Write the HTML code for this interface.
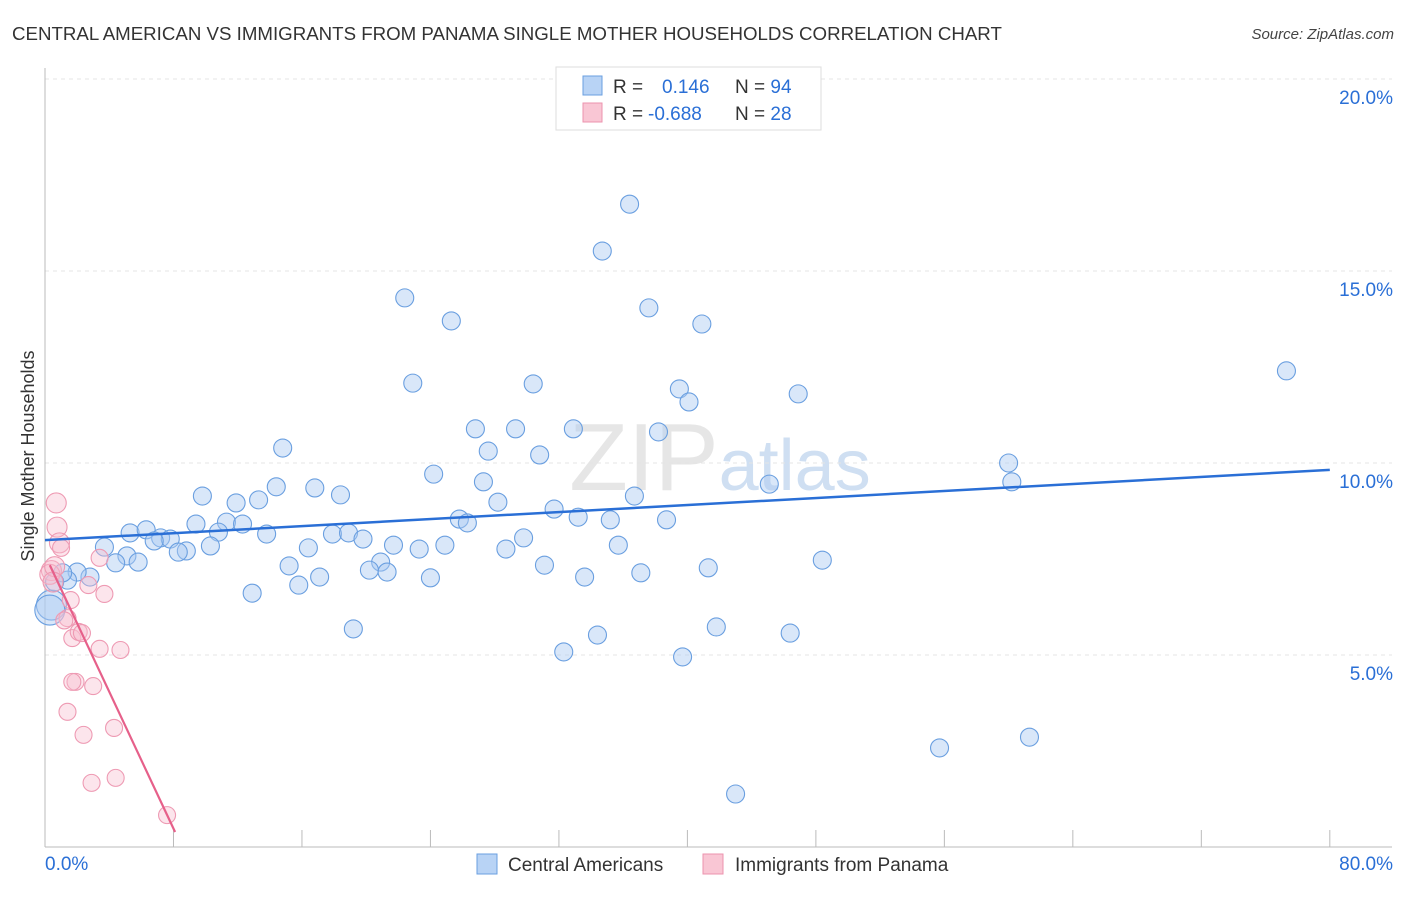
<!DOCTYPE html>
<html><head><meta charset="utf-8"><style>
body{margin:0;background:#fff;font-family:"Liberation Sans",sans-serif}
svg text{font-family:"Liberation Sans",sans-serif}
</style></head><body>
<svg id="chart" width="1406" height="892" xmlns="http://www.w3.org/2000/svg">
<text x="12" y="40" font-size="18.7" fill="#333">CENTRAL AMERICAN VS IMMIGRANTS FROM PANAMA SINGLE MOTHER HOUSEHOLDS CORRELATION CHART</text>
<text x="1394" y="39" font-size="15" fill="#444" text-anchor="end" font-style="italic">Source: ZipAtlas.com</text>
<text x="720" y="490" font-size="96" fill="#e6e6e6" text-anchor="middle" font-family="Liberation Serif">ZIP<tspan fill="#cfdff2" font-family="Liberation Sans" font-size="72">atlas</tspan></text>
<text transform="translate(34,456) rotate(-90)" font-size="18" fill="#333" text-anchor="middle">Single Mother Households</text>
<g id="grid"></g><g id="axes"></g><g id="pts"></g><g id="lines"></g>
<g>
<rect x="556" y="67" width="265" height="63" fill="#fff" stroke="#ddd"/>
<rect x="583" y="76" width="19" height="19" fill="#b8d3f5" stroke="#6a9fe0"/>
<rect x="583" y="103" width="19" height="19" fill="#f9c6d4" stroke="#ec93ae"/>
<text x="613" y="93" font-size="19" fill="#333">R =  <tspan fill="#2a6fd6" x="662">0.146</tspan><tspan x="735" fill="#333">N = </tspan><tspan fill="#2a6fd6">94</tspan></text>
<text x="613" y="120" font-size="19" fill="#333">R = <tspan fill="#2a6fd6" x="648">-0.688</tspan><tspan x="735" fill="#333">N = </tspan><tspan fill="#2a6fd6">28</tspan></text>
</g>
<g>
<rect x="477" y="854" width="20" height="20" fill="#b8d3f5" stroke="#6a9fe0"/>
<text x="508" y="871" font-size="19" fill="#333">Central Americans</text>
<rect x="703" y="854" width="20" height="20" fill="#f9c6d4" stroke="#ec93ae"/>
<text x="735" y="871" font-size="19" fill="#333">Immigrants from Panama</text>
</g>
</svg>
<script>
const blueX=[36.4,34.7,22.4,37.6,25.3,40.9,77.3,22.9,30.4,39.5,40.1,46.9,26.8,29.3,32.9,38.2,14.8,27.6,30.8,60.0,24.2,60.2,45.1,27.3,14.4,16.8,9.8,18.4,36.7,11.9,13.3,28.2,31.7,33.2,25.8,26.3,35.2,38.7,9.4,11.3,12.3,5.3,6.3,10.8,13.8,17.9,18.9,19.8,29.8,7.2,7.8,6.8,3.7,10.3,8.8,8.3,16.4,21.7,23.3,24.9,28.7,35.7,5.1,4.4,5.8,20.9,15.2,20.2,21.3,31.1,41.3,48.4,37.1,17.1,24.0,33.6,15.8,2.8,2.0,1.4,1.1,12.9,0.4,0.3,19.2,41.8,34.4,46.4,32.3,39.7,55.7,61.3,43.0,0.6];
const blueY=[16.74,15.52,14.30,14.04,13.70,13.62,12.40,12.08,12.06,11.93,11.59,11.80,10.89,10.89,10.89,10.81,10.39,10.31,10.21,10.0,9.71,9.51,9.45,9.51,9.38,9.35,9.14,9.17,9.14,8.96,9.04,8.98,8.80,8.59,8.54,8.44,8.52,8.52,8.41,8.46,8.41,8.18,8.26,8.20,8.15,8.15,8.18,8.02,8.05,8.05,8.02,7.97,7.81,7.84,7.71,7.68,7.79,7.86,7.76,7.86,7.76,7.86,7.58,7.40,7.42,7.42,7.32,7.21,7.16,7.34,7.27,7.47,7.14,7.03,7.01,7.03,6.82,7.03,7.16,6.95,7.14,6.61,6.30,6.17,5.68,5.73,5.52,5.57,5.08,4.95,2.58,2.86,1.38,6.9];
const pinkX=[0.7,0.75,0.9,1.0,0.4,0.3,0.6,3.4,2.7,3.7,1.4,1.7,2.1,2.3,3.4,4.7,1.9,1.7,3.0,1.4,2.4,4.3,2.9,4.4,7.6,1.6,1.2,0.5];
const pinkY=[8.96,8.33,7.92,7.79,7.2,7.1,7.3,7.53,6.82,6.59,5.96,5.44,5.60,5.57,5.16,5.13,4.30,4.30,4.19,3.52,2.92,3.10,1.67,1.80,0.83,6.43,5.9,6.9];
const yTicks=[5,10,15,20];
const yTickLabels=["5.0%","10.0%","15.0%","20.0%"];
const xTicks=[8,16,24,32,40,48,56,64,72,80];
const blueTrend=[7.99,9.82];
const pinkTrend=[[0.3,7.34],[8.1,0.39]];
const NS="http://www.w3.org/2000/svg";
const sx=v=>45+v*16.06, sy=v=>847-v*38.4;
function mk(tag,attrs,parent){const e=document.createElementNS(NS,tag);for(const k in attrs)e.setAttribute(k,attrs[k]);document.getElementById(parent).appendChild(e);return e;}
yTicks.forEach((t,i)=>{
 const g=mk('line',{x1:45,x2:1392,y1:sy(t),y2:sy(t),stroke:'#e4e4e4','stroke-dasharray':'4,4'},'grid');
 
 
 const l=mk('text',{x:1393,y:sy(t)+25,'font-size':19,fill:'#2a6fd6','text-anchor':'end'},'axes');l.textContent=yTickLabels[i];
 
 
});
const ya=mk('line',{x1:45,x2:45,y1:68,y2:847,stroke:'#bbb'},'axes');


const xa=mk('line',{x1:45,x2:1392,y1:847,y2:847,stroke:'#bbb'},'axes');


xTicks.forEach(t=>{const l=mk('line',{x1:sx(t),x2:sx(t),y1:830,y2:847,stroke:'#bbb'},'axes');
 
 });
const x0=mk('text',{x:45,y:870,'font-size':19,fill:'#2a6fd6'},'axes');x0.textContent='0.0%';


const x1=mk('text',{x:1393,y:870,'font-size':19,fill:'#2a6fd6','text-anchor':'end'},'axes');x1.textContent='80.0%';


blueX.forEach((x,i)=>{const r=(x<1&&blueY[i]<6.5)?15:9;
 const c=mk('circle',{cx:sx(x),cy:sy(blueY[i]),r:r,fill:'rgba(170,202,242,0.45)',stroke:'#6a9fe0','stroke-width':1.1},'pts');
 
 });
pinkX.forEach((x,i)=>{
 const c=mk('circle',{cx:sx(x),cy:sy(pinkY[i]),r:x<1?10:8.5,fill:'rgba(248,190,208,0.4)',stroke:'#ee9ab3','stroke-width':1.1},'pts');
 
 });
const bl=mk('line',{x1:sx(0),y1:sy(blueTrend[0]),x2:sx(80),y2:sy(blueTrend[1]),stroke:'#2a6fd6','stroke-width':2.5},'lines');


const pl=mk('line',{x1:sx(pinkTrend[0][0]),y1:sy(pinkTrend[0][1]),x2:sx(pinkTrend[1][0]),y2:sy(pinkTrend[1][1]),stroke:'#e6608a','stroke-width':2.2},'lines');


</script>
</body></html>
